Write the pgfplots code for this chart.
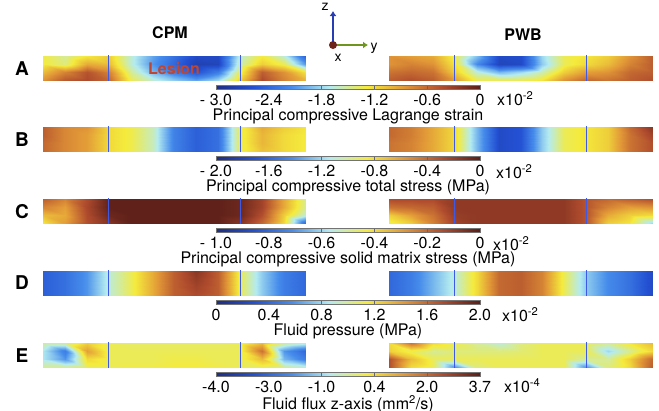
\documentclass[border=0pt]{standalone}
\usepackage{fontspec}
\setmainfont{TeX Gyre Heros}
\usepackage{pgfplots}
\pgfplotsset{compat=1.18}
\usetikzlibrary{arrows.meta}

\definecolor{fence}{RGB}{60,90,230}
\definecolor{lesion}{RGB}{190,70,50}
\definecolor{zblue}{RGB}{40,60,180}
\definecolor{ygreen}{RGB}{110,150,30}
\definecolor{xdot}{RGB}{110,35,25}
\newcommand\fs{\fontsize{16}{18}\selectfont}

\pgfplotsset{
  colormap={fem}{rgb255=(30,45,130) rgb255=(35,80,210) rgb255=(70,140,235)
    rgb255=(180,235,240) rgb255=(245,235,60) rgb255=(225,150,55)
    rgb255=(175,75,45) rgb255=(90,30,25)},
  strip/.style={anchor=north west, scale only axis, width=263pt, height=24pt,
    xmin=0, xmax=12, ymin=0, ymax=3, hide axis, view={0}{90}, clip=false,
    colormap name=fem, point meta min=0, point meta max=1},
  cbar/.style={colorbar horizontal, colorbar/width=4.5pt, colorbar style={
    at={(parent axis.south west)}, anchor=north west, xshift=173pt, yshift=3.5pt,
    width=264pt, height=4.5pt, scale only axis,
    xtick={0,0.2,0.4,0.6,0.8,1}, xtick pos=left, tick align=inside,
    major tick length=4.5pt, xtick style={draw=black!60, line width=0.6pt},
    axis line style={draw=black!55, line width=0.4pt},
    xticklabel style={inner sep=0pt, yshift=-4.5pt, font=\fs},
    xlabel style={at={(axis description cs:0.5,0)}, anchor=north,
      inner sep=0pt, yshift=-19pt, font=\fs}}},
}
\newcommand\fences{%
  \draw[fence, line width=1.2pt] (axis cs:3,-0.15,1) -- (axis cs:3,3.15,1);
  \draw[fence, line width=1.2pt] (axis cs:9,-0.15,1) -- (axis cs:9,3.15,1);}

\begin{document}
\begin{tikzpicture}
\path[use as bounding box] (0,0) rectangle (659pt,-410pt);

% ---- A: principal compressive Lagrange strain
\begin{axis}[strip, at={(43pt,-56pt)}, cbar,
  colorbar style={xticklabels={- 3.0,-2.4,-1.8,-1.2,-0.6,0},
    xlabel={Principal compressive Lagrange strain}}]
\addplot3[surf, shader=interp] coordinates {
(0,3,0.56) (1,3,0.50) (2,3,0.58) (3,3,0.62) (4,3,0.45) (5,3,0.32) (6,3,0.22) (7,3,0.12) (8,3,0.12) (9,3,0.45) (10,3,0.57) (11,3,0.45) (12,3,0.18)

(0,2,0.57) (1,2,0.52) (2,2,0.68) (3,2,0.65) (4,2,0.45) (5,2,0.30) (6,2,0.20) (7,2,0.08) (8,2,0.10) (9,2,0.48) (10,2,0.62) (11,2,0.55) (12,2,0.30)

(0,1,0.65) (1,1,0.75) (2,1,0.84) (3,1,0.75) (4,1,0.50) (5,1,0.35) (6,1,0.25) (7,1,0.15) (8,1,0.25) (9,1,0.55) (10,1,0.82) (11,1,0.72) (12,1,0.58)

(0,0,0.72) (1,0,0.83) (2,0,0.86) (3,0,0.80) (4,0,0.55) (5,0,0.45) (6,0,0.38) (7,0,0.32) (8,0,0.40) (9,0,0.62) (10,0,0.86) (11,0,0.75) (12,0,0.66)
};
\fences
\end{axis}
\begin{axis}[strip, at={(389pt,-56pt)}]
\addplot3[surf, shader=interp] coordinates {
(0,3,0.72) (1,3,0.70) (2,3,0.68) (3,3,0.55) (4,3,0.36) (5,3,0.12) (6,3,0.13) (7,3,0.40) (8,3,0.55) (9,3,0.58) (10,3,0.62) (11,3,0.72) (12,3,0.82)

(0,2,0.72) (1,2,0.75) (2,2,0.72) (3,2,0.58) (4,2,0.28) (5,2,0.10) (6,2,0.12) (7,2,0.38) (8,2,0.55) (9,2,0.60) (10,2,0.65) (11,2,0.75) (12,2,0.82)

(0,1,0.78) (1,1,0.80) (2,1,0.78) (3,1,0.62) (4,1,0.45) (5,1,0.35) (6,1,0.40) (7,1,0.48) (8,1,0.62) (9,1,0.70) (10,1,0.72) (11,1,0.80) (12,1,0.82)

(0,0,0.82) (1,0,0.85) (2,0,0.82) (3,0,0.70) (4,0,0.55) (5,0,0.55) (6,0,0.55) (7,0,0.58) (8,0,0.72) (9,0,0.80) (10,0,0.78) (11,0,0.82) (12,0,0.85)
};
\fences
\end{axis}

% ---- B: principal compressive total stress
\begin{axis}[strip, at={(43pt,-127pt)}, cbar,
  colorbar style={xticklabels={- 2.0,-1.6,-1.2,-0.8,-0.4,0},
    xlabel={Principal compressive total stress (MPa)}}]
\addplot3[surf, shader=interp] coordinates {
(0,3,0.82) (1,3,0.74) (2,3,0.72) (3,3,0.60) (4,3,0.56) (5,3,0.47) (6,3,0.26) (7,3,0.18) (8,3,0.22) (9,3,0.55) (10,3,0.68) (11,3,0.62) (12,3,0.58)

(0,2,0.82) (1,2,0.74) (2,2,0.70) (3,2,0.60) (4,2,0.56) (5,2,0.47) (6,2,0.26) (7,2,0.18) (8,2,0.22) (9,2,0.55) (10,2,0.66) (11,2,0.60) (12,2,0.57)

(0,1,0.80) (1,1,0.74) (2,1,0.70) (3,1,0.60) (4,1,0.56) (5,1,0.47) (6,1,0.26) (7,1,0.18) (8,1,0.22) (9,1,0.55) (10,1,0.66) (11,1,0.60) (12,1,0.57)

(0,0,0.80) (1,0,0.74) (2,0,0.70) (3,0,0.60) (4,0,0.56) (5,0,0.47) (6,0,0.26) (7,0,0.18) (8,0,0.22) (9,0,0.55) (10,0,0.64) (11,0,0.60) (12,0,0.57)
};
\fences
\end{axis}
\begin{axis}[strip, at={(389pt,-127pt)}]
\addplot3[surf, shader=interp] coordinates {
(0,3,0.80) (1,3,0.76) (2,3,0.68) (3,3,0.60) (4,3,0.35) (5,3,0.12) (6,3,0.15) (7,3,0.38) (8,3,0.55) (9,3,0.58) (10,3,0.62) (11,3,0.80) (12,3,0.92)

(0,2,0.80) (1,2,0.76) (2,2,0.68) (3,2,0.60) (4,2,0.35) (5,2,0.12) (6,2,0.15) (7,2,0.38) (8,2,0.55) (9,2,0.58) (10,2,0.62) (11,2,0.78) (12,2,0.88)

(0,1,0.78) (1,1,0.75) (2,1,0.68) (3,1,0.60) (4,1,0.35) (5,1,0.12) (6,1,0.15) (7,1,0.38) (8,1,0.55) (9,1,0.58) (10,1,0.62) (11,1,0.78) (12,1,0.85)

(0,0,0.78) (1,0,0.75) (2,0,0.68) (3,0,0.60) (4,0,0.35) (5,0,0.12) (6,0,0.15) (7,0,0.38) (8,0,0.55) (9,0,0.58) (10,0,0.62) (11,0,0.78) (12,0,0.85)
};
\fences
\end{axis}

% ---- C: principal compressive solid matrix stress
\begin{axis}[strip, at={(43pt,-199pt)}, cbar,
  colorbar style={xticklabels={- 1.0,-0.8,-0.6,-0.4,-0.2,0},
    xlabel={Principal compressive solid matrix stress (MPa)}}]
\addplot3[surf, shader=interp] coordinates {
(0,3,0.82) (1,3,0.75) (2,3,0.86) (3,3,0.99) (4,3,0.99) (5,3,0.99) (6,3,0.99) (7,3,0.99) (8,3,0.99) (9,3,0.97) (10,3,0.88) (11,3,0.68) (12,3,0.50)

(0,2,0.75) (1,2,0.70) (2,2,0.87) (3,2,0.99) (4,2,0.99) (5,2,0.99) (6,2,0.99) (7,2,0.99) (8,2,0.99) (9,2,0.97) (10,2,0.88) (11,2,0.68) (12,2,0.50)

(0,1,0.65) (1,1,0.68) (2,1,0.86) (3,1,0.97) (4,1,0.99) (5,1,0.99) (6,1,0.99) (7,1,0.99) (8,1,0.99) (9,1,0.97) (10,1,0.85) (11,1,0.62) (12,1,0.45)

(0,0,0.58) (1,0,0.70) (2,0,0.85) (3,0,0.93) (4,0,0.99) (5,0,0.99) (6,0,0.99) (7,0,0.99) (8,0,0.99) (9,0,0.93) (10,0,0.80) (11,0,0.60) (12,0,0.20)
};
\fences
\end{axis}
\begin{axis}[strip, at={(389pt,-199pt)}]
\addplot3[surf, shader=interp] coordinates {
(0,3,0.86) (1,3,0.86) (2,3,0.86) (3,3,0.91) (4,3,0.91) (5,3,0.91) (6,3,0.91) (7,3,0.91) (8,3,0.91) (9,3,0.84) (10,3,0.80) (11,3,0.82) (12,3,0.85)

(0,2,0.78) (1,2,0.80) (2,2,0.82) (3,2,0.91) (4,2,0.91) (5,2,0.91) (6,2,0.91) (7,2,0.91) (8,2,0.91) (9,2,0.84) (10,2,0.75) (11,2,0.70) (12,2,0.72)

(0,1,0.62) (1,1,0.70) (2,1,0.78) (3,1,0.90) (4,1,0.91) (5,1,0.91) (6,1,0.91) (7,1,0.91) (8,1,0.91) (9,1,0.84) (10,1,0.68) (11,1,0.62) (12,1,0.60)

(0,0,0.55) (1,0,0.62) (2,0,0.75) (3,0,0.88) (4,0,0.91) (5,0,0.91) (6,0,0.91) (7,0,0.91) (8,0,0.91) (9,0,0.84) (10,0,0.62) (11,0,0.58) (12,0,0.40)
};
\fences
\end{axis}

% ---- D: fluid pressure
\begin{axis}[strip, at={(43pt,-271pt)}, cbar,
  colorbar style={xticklabels={0,0.4,0.8,1.2,1.6,2.0},
    xlabel={Fluid pressure (MPa)}}]
\addplot3[surf, shader=interp] coordinates {
(0,3,0.18) (1,3,0.22) (2,3,0.30) (3,3,0.45) (4,3,0.55) (5,3,0.68) (6,3,0.82) (7,3,0.92) (8,3,0.82) (9,3,0.55) (10,3,0.38) (11,3,0.25) (12,3,0.20)

(0,2,0.18) (1,2,0.22) (2,2,0.30) (3,2,0.45) (4,2,0.55) (5,2,0.68) (6,2,0.82) (7,2,0.90) (8,2,0.82) (9,2,0.55) (10,2,0.38) (11,2,0.25) (12,2,0.20)

(0,1,0.18) (1,1,0.22) (2,1,0.30) (3,1,0.45) (4,1,0.55) (5,1,0.68) (6,1,0.82) (7,1,0.88) (8,1,0.82) (9,1,0.55) (10,1,0.38) (11,1,0.25) (12,1,0.20)

(0,0,0.18) (1,0,0.22) (2,0,0.30) (3,0,0.45) (4,0,0.55) (5,0,0.68) (6,0,0.82) (7,0,0.86) (8,0,0.82) (9,0,0.55) (10,0,0.38) (11,0,0.25) (12,0,0.20)
};
\fences
\end{axis}
\begin{axis}[strip, at={(389pt,-271pt)}]
\addplot3[surf, shader=interp] coordinates {
(0,3,0.20) (1,3,0.25) (2,3,0.35) (3,3,0.45) (4,3,0.60) (5,3,0.80) (6,3,0.82) (7,3,0.75) (8,3,0.55) (9,3,0.38) (10,3,0.28) (11,3,0.22) (12,3,0.12)

(0,2,0.20) (1,2,0.25) (2,2,0.35) (3,2,0.45) (4,2,0.60) (5,2,0.80) (6,2,0.82) (7,2,0.75) (8,2,0.55) (9,2,0.38) (10,2,0.28) (11,2,0.22) (12,2,0.12)

(0,1,0.20) (1,1,0.25) (2,1,0.35) (3,1,0.45) (4,1,0.60) (5,1,0.80) (6,1,0.82) (7,1,0.75) (8,1,0.55) (9,1,0.38) (10,1,0.28) (11,1,0.22) (12,1,0.12)

(0,0,0.20) (1,0,0.25) (2,0,0.35) (3,0,0.45) (4,0,0.60) (5,0,0.80) (6,0,0.82) (7,0,0.75) (8,0,0.55) (9,0,0.38) (10,0,0.28) (11,0,0.22) (12,0,0.12)
};
\fences
\end{axis}

% ---- E: fluid flux z-axis
\begin{axis}[strip, at={(43pt,-343pt)}, cbar,
  colorbar style={xticklabels={-4.0,-3.0,-1.0,0.4,2.0,3.7},
    xlabel={Fluid flux z-axis (mm\textsuperscript{2}/s)}}]
\addplot3[surf, shader=interp] coordinates {
(0,3,0.50) (1,3,0.50) (2,3,0.62) (3,3,0.55) (4,3,0.54) (5,3,0.54) (6,3,0.54) (7,3,0.54) (8,3,0.54) (9,3,0.55) (10,3,0.65) (11,3,0.50) (12,3,0.45)

(0,2,0.42) (1,2,0.25) (2,2,0.70) (3,2,0.55) (4,2,0.55) (5,2,0.55) (6,2,0.55) (7,2,0.55) (8,2,0.55) (9,2,0.55) (10,2,0.78) (11,2,0.30) (12,2,0.20)

(0,1,0.42) (1,1,0.30) (2,1,0.60) (3,1,0.55) (4,1,0.55) (5,1,0.55) (6,1,0.56) (7,1,0.56) (8,1,0.55) (9,1,0.55) (10,1,0.65) (11,1,0.35) (12,1,0.25)

(0,0,0.50) (1,0,0.50) (2,0,0.55) (3,0,0.55) (4,0,0.56) (5,0,0.56) (6,0,0.57) (7,0,0.57) (8,0,0.56) (9,0,0.55) (10,0,0.55) (11,0,0.50) (12,0,0.45)
};
\fences
\end{axis}
\begin{axis}[strip, at={(389pt,-343pt)}]
\addplot3[surf, shader=interp] coordinates {
(0,3,0.60) (1,3,0.78) (2,3,0.60) (3,3,0.55) (4,3,0.50) (5,3,0.45) (6,3,0.52) (7,3,0.55) (8,3,0.55) (9,3,0.55) (10,3,0.50) (11,3,0.58) (12,3,0.65)

(0,2,0.62) (1,2,0.55) (2,2,0.50) (3,2,0.52) (4,2,0.52) (5,2,0.52) (6,2,0.53) (7,2,0.55) (8,2,0.55) (9,2,0.55) (10,2,0.40) (11,2,0.50) (12,2,0.60)

(0,1,0.85) (1,1,0.65) (2,1,0.55) (3,1,0.55) (4,1,0.55) (5,1,0.55) (6,1,0.55) (7,1,0.55) (8,1,0.55) (9,1,0.50) (10,1,0.50) (11,1,0.62) (12,1,0.80)

(0,0,0.85) (1,0,0.60) (2,0,0.55) (3,0,0.30) (4,0,0.52) (5,0,0.55) (6,0,0.55) (7,0,0.55) (8,0,0.55) (9,0,0.30) (10,0,0.52) (11,0,0.60) (12,0,0.82)
};
\fences
\end{axis}

% ---- text around the strips
\node[font=\bfseries\fs] at (170pt,-33pt) {CPM};
\node[font=\bfseries\fs] at (523pt,-35pt) {PWB};
\node[font=\bfseries\fs, text=lesion] at (174pt,-69pt) {Lesion};
\foreach \l/\y in {A/69,B/140,C/212,D/283,E/356}
  \node[font=\bfseries\fontsize{19}{19}\selectfont] at (22pt,-\y pt) {\l};
\foreach \y/\x/\e in {91.5/497/2,164.5/496/2,236.5/493/2,307.5/502/2,378.5/504/4}
  \node[anchor=north west, inner sep=0pt, font=\fs] at (\x pt,-\y pt) {x10\textsuperscript{-\e}};

% ---- coordinate glyph
\draw[zblue, line width=2.6pt, -{Latex[length=5pt,width=7pt]}] (333pt,-45pt) -- (333pt,-11pt);
\draw[ygreen, line width=2.6pt, -{Latex[length=5pt,width=7pt]}] (333pt,-45pt) -- (368pt,-45pt);
\fill[xdot] (333pt,-45pt) circle (4pt);
\node[font=\fontsize{14}{14}\selectfont] at (325pt,-7pt) {z};
\node[font=\fontsize{14}{14}\selectfont] at (374pt,-48pt) {y};
\node[font=\fontsize{14}{14}\selectfont] at (338pt,-58pt) {x};
\end{tikzpicture}
\end{document}
